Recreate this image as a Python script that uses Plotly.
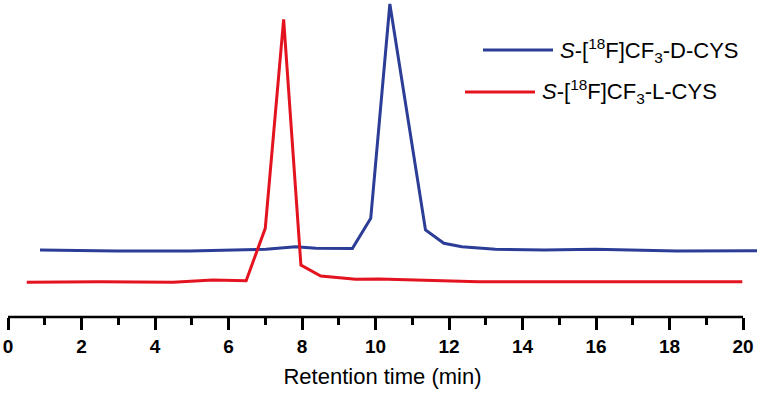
import plotly.graph_objects as go

# Retention time (min) and detector signal (arbitrary units)
d_time = [0.87, 1.86, 2.95, 4.94, 6.84, 7.02, 7.83, 8.38, 9.37, 9.87, 10.39,
          11.36, 11.86, 12.35, 13.26, 14.6, 15.97, 16.88, 18.2, 20.38]
d_signal = [32, 31.3, 31, 31, 32, 32.7, 35.3, 33.7, 33.5, 63.7, 278,
            52, 38.7, 35.3, 32.7, 32, 32.7, 32, 31, 31.3]

l_time = [0.51, 2.5, 4.49, 5.57, 6.48, 7.0, 7.5, 7.97, 8.51, 9.46, 10.1, 12.8, 19.98]
l_signal = [-0.3, 0.3, -0.3, 2, 1.3, 53.7, 262.7, 17, 6, 2.7, 3, 0.3, 0.3]

series_names = ["<i>S</i>-[<sup>18</sup>F]CF<sub>3</sub>-D-CYS",
                "<i>S</i>-[<sup>18</sup>F]CF<sub>3</sub>-L-CYS"]
colors = ["#2b3d96", "#e3141f"]

x_ticks = list(range(0, 21, 2))
x_axis_end = 20

W, H = 764, 397
L, R, T, B = 8, 7, 0, 80
PW, PH = W - L - R, H - T - B

fig = go.Figure()
fig.add_trace(go.Scatter(x=d_time, y=d_signal, mode="lines", name=series_names[0],
                         line=dict(color=colors[0], width=3), showlegend=False))
fig.add_trace(go.Scatter(x=l_time, y=l_signal, mode="lines", name=series_names[1],
                         line=dict(color=colors[1], width=3), showlegend=False))

# x-axis baseline ends at 20 min
fig.add_shape(type="line", xref="x", yref="paper", x0=0, x1=x_axis_end, y0=0, y1=0,
              line=dict(color="black", width=2.5))

# Legend drawn as line samples + text
legend_rows = [(483, 553, 50), (465, 535, 92)]
for (x0, x1, yp), name, c in zip(legend_rows, series_names, colors):
    fig.add_shape(type="line", xref="paper", yref="paper",
                  x0=(x0 - L) / PW, x1=(x1 - L) / PW,
                  y0=(PH - yp) / PH, y1=(PH - yp) / PH,
                  line=dict(color=c, width=3))
    fig.add_annotation(xref="paper", yref="paper", x=(x1 + 5 - L) / PW,
                       y=(PH - yp) / PH, xanchor="left", yanchor="middle",
                       text=name, showarrow=False,
                       font=dict(family="Liberation Sans, Arial", size=22, color="black"))

fig.update_layout(
    width=W, height=H,
    margin=dict(l=L, r=R, t=T, b=B),
    paper_bgcolor="white", plot_bgcolor="white",
    xaxis=dict(range=[0, 20.38], showgrid=False, zeroline=False, automargin=False,
               showline=False,
               ticks="outside", ticklen=12, tickwidth=2.5, tickcolor="black",
               tickvals=x_ticks, ticktext=[f"<b>{v}</b>" for v in x_ticks],
               tickfont=dict(family="Liberation Sans, Arial", size=19, color="black"),
               minor=dict(dtick=1, ticks="outside", ticklen=7, tickwidth=2.5, tickcolor="black"),
               title=dict(text="Retention time (min)", standoff=12,
                          font=dict(family="Liberation Sans, Arial", size=22, color="black"))),
    yaxis=dict(range=[-35, 282], visible=False),
)

fig.write_html("out.html", config={"displayModeBar": False},
               post_script="document.body.style.margin='0';")
